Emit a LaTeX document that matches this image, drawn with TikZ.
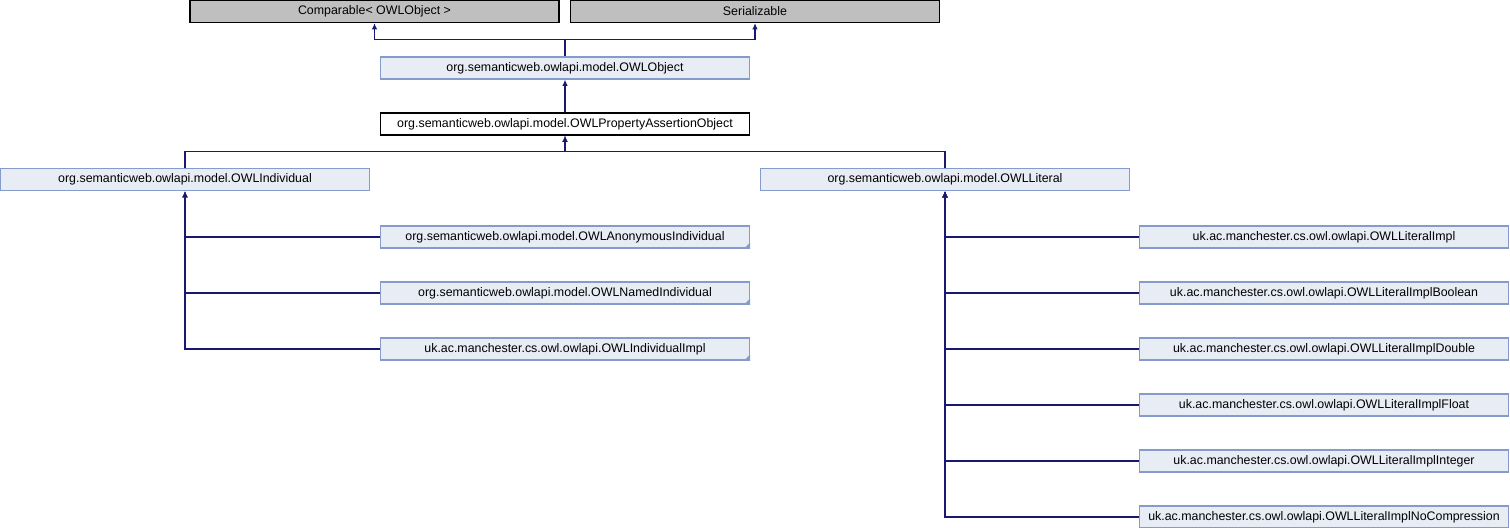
\documentclass[tikz,border=0pt]{standalone}
\usepackage{fontspec}
\setmainfont{Liberation Sans}
\usetikzlibrary{arrows.meta}
\definecolor{extgray}{RGB}{191,191,191}
\definecolor{clsfill}{RGB}{232,236,245}
\definecolor{clsdraw}{RGB}{132,155,204}
\definecolor{linkblue}{RGB}{25,25,112}
\tikzset{
  box/.style={draw, line width=0.6pt, minimum width=184.5pt, minimum height=11pt, inner sep=0pt, font=\fontsize{6.2}{8}\selectfont},
  extbox/.style={box, fill=extgray, draw=black},
  clsbox/.style={box, fill=clsfill, draw=clsdraw},
  curbox/.style={box, fill=white, draw=black},
  inh/.style={draw=linkblue, line width=0.6pt, -{Latex[length=3.2pt,width=2.8pt]}},
}
\begin{document}
\begin{tikzpicture}[x=0.5pt,y=0.5pt,yscale=-1,xscale=1]
\useasboundingbox (0,0) rectangle (1510,528);

% Top level
\node[extbox] (cmp) at (374.5,11.5) {Comparable< OWLObject >};
\node[extbox] (ser) at (755,11.5) {Serializable};
\node[clsbox] (obj) at (565,68) {org.semanticweb.owlapi.model.OWLObject};
\node[curbox] (pao) at (565,124) {org.semanticweb.owlapi.model.OWLPropertyAssertionObject};

% Second level
\node[clsbox] (ind) at (185,179.5) {org.semanticweb.owlapi.model.OWLIndividual};
\node[clsbox] (lit) at (945,179.5) {org.semanticweb.owlapi.model.OWLLiteral};

% Individuals
\node[clsbox] (anon) at (565,237) {org.semanticweb.owlapi.model.OWLAnonymousIndividual};
\node[clsbox] (named) at (565,293) {org.semanticweb.owlapi.model.OWLNamedIndividual};
\node[clsbox] (indimpl) at (565,349) {uk.ac.manchester.cs.owl.owlapi.OWLIndividualImpl};

% Literals
\node[clsbox] (litimpl) at (1324,237) {uk.ac.manchester.cs.owl.owlapi.OWLLiteralImpl};
\node[clsbox] (litbool) at (1324,293) {uk.ac.manchester.cs.owl.owlapi.OWLLiteralImplBoolean};
\node[clsbox] (litdbl) at (1324,349) {uk.ac.manchester.cs.owl.owlapi.OWLLiteralImplDouble};
\node[clsbox] (litflt) at (1324,405) {uk.ac.manchester.cs.owl.owlapi.OWLLiteralImplFloat};
\node[clsbox] (litint) at (1324,461) {uk.ac.manchester.cs.owl.owlapi.OWLLiteralImplInteger};
\node[clsbox] (litnoc) at (1324,517) {uk.ac.manchester.cs.owl.owlapi.OWLLiteralImplNoCompression};

% folded corners
\foreach \n in {anon,named,indimpl}
  \fill[clsdraw] ([xshift=-3pt]\n.south east) -- (\n.south east) -- ([yshift=-3pt]\n.south east) -- cycle;

% Inheritance
\draw[inh] (obj.north) -- ++(0,-17) -| (cmp.south);
\draw[inh] (obj.north) -- ++(0,-17) -| (ser.south);
\draw[inh] (pao.north) -- (obj.south);
\draw[inh] (ind.north) -- ++(0,-16) -| (pao.south);
\draw[inh] (lit.north) -- ++(0,-16) -| (pao.south);
\foreach \n in {anon,named,indimpl}
  \draw[inh] (\n.west) -| (ind.south);
\foreach \n in {litimpl,litbool,litdbl,litflt,litint,litnoc}
  \draw[inh] (\n.west) -| (lit.south);

\end{tikzpicture}
\end{document}
